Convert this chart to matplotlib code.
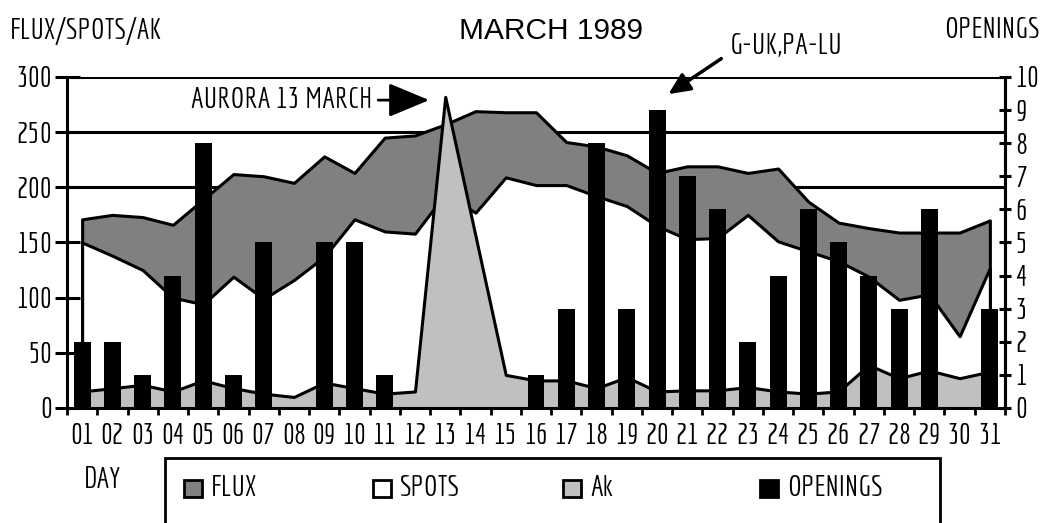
import matplotlib
matplotlib.use("Agg")
from matplotlib import pyplot as plt
from matplotlib.patches import Rectangle
import numpy as np

plt.rcParams['font.family'] = ['Economica', 'DejaVu Sans']

days = list(range(1, 32))
day_labels = ["%02d" % d for d in days]

flux = [171, 175, 173, 166, 189, 212, 210, 204, 228, 213,
        245, 247, 257, 269, 268, 268, 241, 237, 229, 213,
        219, 219, 213, 217, 187, 168, 163, 159, 159, 159, 170]
spots = [150, 138, 125, 100, 94, 119, 99, 116, 137, 171,
         160, 158, 194, 177, 209, 202, 202, 192, 183, 165,
         153, 154, 175, 151, 142, 133, 119, 98, 103, 65, 127]
ak = [15, 18, 21, 15, 25, 18, 13, 10, 23, 18,
      13, 15, 282, 156, 30, 25, 25, 18, 28, 15,
      16, 16, 19, 15, 13, 15, 39, 27, 34, 27, 33]
openings = [2, 2, 1, 4, 8, 1, 5, 0, 5, 5,
            1, 0, 0, 0, 0, 1, 3, 8, 3, 9,
            7, 6, 2, 4, 6, 5, 4, 3, 6, 0, 3]

series_names = ["FLUX", "SPOTS", "Ak", "OPENINGS"]
series_colors = ["#808080", "#ffffff", "#c0c0c0", "#000000"]

x = np.array(days)
FS = 21

fig = plt.figure(figsize=(10.57, 5.23), dpi=100)
ax = fig.add_axes([0.0634, 0.2199, 0.8874, 0.633])

# grid lines only in the upper part, behind the areas
for g in [200, 250, 300]:
    ax.axhline(g, color="black", lw=2.2, zorder=0)

ax.fill_between(x, 0, flux, facecolor=series_colors[0], edgecolor="black", lw=2.2, zorder=1)
ax.fill_between(x, 0, spots, facecolor=series_colors[1], edgecolor="black", lw=2.2, zorder=2)
ax.fill_between(x, 0, ak, facecolor=series_colors[2], edgecolor="black", lw=2.2, zorder=3)

ax.set_xlim(0.5, 31.5)
ax.set_ylim(0, 300)
ax.set_yticks(range(0, 301, 50))
ax.set_xticks(x)
ax.set_xticklabels(day_labels, fontsize=FS)
ax.set_xticks(np.arange(0.5, 32, 1), minor=True)
ax.tick_params(axis="x", which="major", length=0, pad=11)
ax.tick_params(axis="x", which="minor", length=5, width=2, direction="out")
ax.tick_params(axis="y", direction="inout", length=18, width=2.2, labelsize=FS,
               left=True, right=True, pad=2)
ax.spines["top"].set_visible(False)
for s in ["left", "right", "bottom"]:
    ax.spines[s].set_linewidth(2.2)

ax2 = ax.twinx()
ax2.bar(x, openings, width=0.56, color=series_colors[3], zorder=4)
ax2.set_ylim(0, 10)
ax2.set_yticks(range(0, 11))
ax2.tick_params(axis="y", direction="inout", length=9, width=2.2, labelsize=FS, pad=3)
ax2.spines["top"].set_visible(False)
ax2.spines["right"].set_linewidth(2.2)

# annotations
ax.annotate("AURORA 13 MARCH", xy=(12.56, 279), xytext=(10.6, 279),
            ha="right", va="center", fontsize=FS,
            arrowprops=dict(arrowstyle="-|>,head_length=1.2,head_width=0.5",
                            color="black", lw=2))
ax.annotate("", xy=(20.3, 283), xytext=(22.2, 318), annotation_clip=False,
            arrowprops=dict(arrowstyle="-|>,head_length=1.3,head_width=0.6",
                            color="black", lw=2.5))
fig.text(730 / 1057, 1 - 46 / 523, "G-UK,PA-LU", fontsize=FS, ha="left", va="center")

fig.text(551 / 1057, 1 - 31 / 523, "MARCH 1989", fontsize=21.5, ha="center", va="center",
         family=["Liberation Sans", "DejaVu Sans"])
fig.text(10 / 1057, 1 - 31 / 523, "FLUX/SPOTS/AK", fontsize=FS, ha="left", va="center")
fig.text(1040 / 1057, 1 - 31 / 523, "OPENINGS", fontsize=FS, ha="right", va="center")
fig.text(102 / 1057, 1 - 480 / 523, "DAY", fontsize=FS, ha="center", va="center")

# legend box, running off the bottom edge
fig.add_artist(Rectangle((165 / 1057, -0.05), (940 - 165) / 1057, 0.05 + 65 / 523,
                         transform=fig.transFigure, facecolor="none",
                         edgecolor="black", lw=2))
leg_x = [184, 373, 563, 760]
for name, col, lx in zip(series_names, series_colors, leg_x):
    fig.add_artist(Rectangle((lx / 1057, 1 - 497 / 523), 18 / 1057, 17 / 523,
                             transform=fig.transFigure, facecolor=col,
                             edgecolor="black", lw=2))
    fig.text((lx + 27) / 1057, 1 - 488 / 523, name, fontsize=FS, ha="left", va="center")

fig.savefig("out.png", dpi=100)
